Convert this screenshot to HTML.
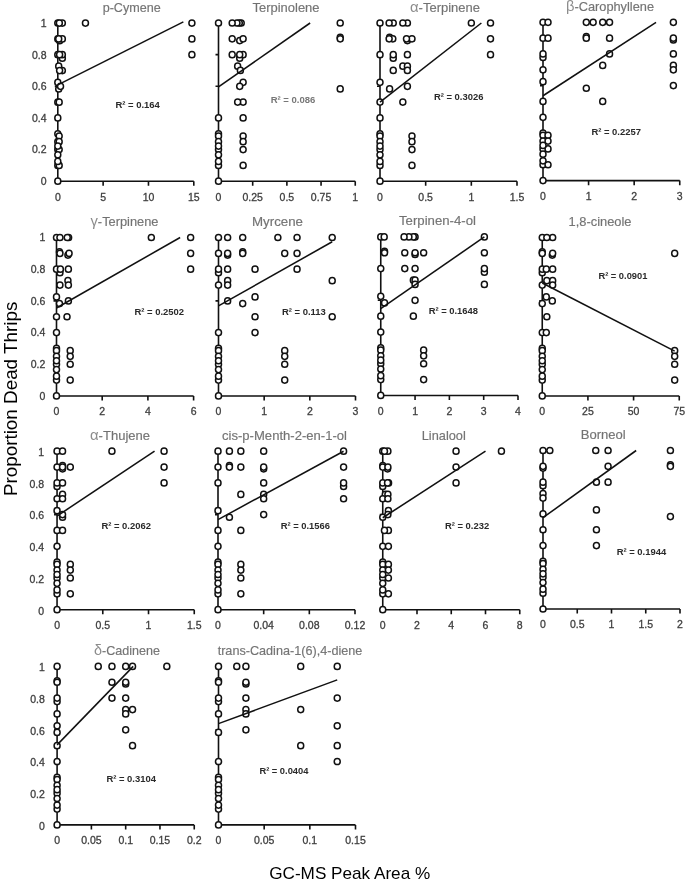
<!DOCTYPE html>
<html lang="en"><head><meta charset="utf-8"><title>Proportion Dead Thrips vs GC-MS Peak Area %</title>
<style>html,body{margin:0;padding:0;background:#fff}svg{display:block}text{font-family:"Liberation Sans",sans-serif}.t{font-size:12.2px;fill:#707070;text-anchor:middle;stroke:#8a8a8a;stroke-width:.2px}.g{stroke:none}.g{font-size:14px;fill:#8c8c8c}.k{font-size:10.5px;fill:#3a3a3a;stroke:#444;stroke-width:.3px}.r{font-size:9.8px;font-weight:bold}.a{stroke:#111;stroke-width:1.6;fill:none;stroke-linecap:butt}.l{stroke-width:1.55}.c ellipse{fill:#fff;stroke:#111;stroke-width:1.5}</style></head><body>
<svg width="685" height="884" viewBox="0 0 685 884">
<rect width="685" height="884" fill="#fff"/>
<g><text class="t" x="131.7" y="11.6" textLength="58.1" lengthAdjust="spacingAndGlyphs">p-Cymene</text><path class="a" d="M57.8 23.1V181.2H193.8M103.13 181.2v4.6M148.47 181.2v4.6M193.8 181.2v4.6M57.8 181.2h-3M57.8 149.58h-3M57.8 117.96h-3M57.8 86.34h-3M57.8 54.72h-3M57.8 23.1h-3"/><text class="k" text-anchor="middle" x="57.8" y="200.5">0</text><text class="k" text-anchor="middle" x="103.13" y="200.5">5</text><text class="k" text-anchor="middle" x="148.47" y="200.5">10</text><text class="k" text-anchor="middle" x="193.8" y="200.5">15</text><text class="k" text-anchor="end" x="46.6" y="185">0</text><text class="k" text-anchor="end" x="46.6" y="153.38">0.2</text><text class="k" text-anchor="end" x="46.6" y="121.76">0.4</text><text class="k" text-anchor="end" x="46.6" y="90.14">0.6</text><text class="k" text-anchor="end" x="46.6" y="58.52">0.8</text><text class="k" text-anchor="end" x="46.6" y="26.9">1</text><g class="c"><ellipse cx="59.61" cy="40.66" rx="3" ry="3.1"/><ellipse cx="62.33" cy="58.23" rx="3" ry="3.1"/><ellipse cx="58.71" cy="66.21" rx="3" ry="3.1"/><ellipse cx="57.8" cy="82.39" rx="3" ry="3.1"/><ellipse cx="58.71" cy="88.98" rx="3" ry="3.1"/><ellipse cx="57.8" cy="23.1" rx="3" ry="3.1"/><ellipse cx="57.8" cy="38.91" rx="3" ry="3.1"/><ellipse cx="57.8" cy="54.72" rx="3" ry="3.1"/><ellipse cx="57.8" cy="102.15" rx="3" ry="3.1"/><ellipse cx="191.9" cy="23.1" rx="3" ry="3.1"/><ellipse cx="85.45" cy="23.1" rx="3" ry="3.1"/><ellipse cx="62.33" cy="23.1" rx="3" ry="3.1"/><ellipse cx="59.34" cy="23.1" rx="3" ry="3.1"/><ellipse cx="191.9" cy="38.91" rx="3" ry="3.1"/><ellipse cx="62.33" cy="38.91" rx="3" ry="3.1"/><ellipse cx="58.71" cy="38.91" rx="3" ry="3.1"/><ellipse cx="191.9" cy="54.72" rx="3" ry="3.1"/><ellipse cx="62.33" cy="54.72" rx="3" ry="3.1"/><ellipse cx="59.61" cy="54.72" rx="3" ry="3.1"/><ellipse cx="62.33" cy="70.53" rx="3" ry="3.1"/><ellipse cx="59.61" cy="70.53" rx="3" ry="3.1"/><ellipse cx="60.52" cy="86.34" rx="3" ry="3.1"/><ellipse cx="59.16" cy="102.15" rx="3" ry="3.1"/><ellipse cx="57.8" cy="117.96" rx="3" ry="3.1"/><ellipse cx="57.8" cy="133.77" rx="3" ry="3.1"/><ellipse cx="57.8" cy="149.58" rx="3" ry="3.1"/><ellipse cx="59.16" cy="149.58" rx="3" ry="3.1"/><ellipse cx="57.8" cy="165.39" rx="3" ry="3.1"/><ellipse cx="59.16" cy="165.39" rx="3" ry="3.1"/><ellipse cx="57.8" cy="181.2" rx="3" ry="3.1"/><ellipse cx="59.16" cy="136.03" rx="3" ry="3.1"/><ellipse cx="57.8" cy="141.67" rx="3" ry="3.1"/><ellipse cx="59.16" cy="141.67" rx="3" ry="3.1"/><ellipse cx="57.8" cy="146.07" rx="3" ry="3.1"/><ellipse cx="57.8" cy="154.84" rx="3" ry="3.1"/><ellipse cx="57.8" cy="161.44" rx="3" ry="3.1"/></g><path class="a l" d="M57.8 84.92L183.37 21.84"/><text class="r" fill="#2a2a2a" x="115.4" y="107.5" textLength="44.5" lengthAdjust="spacingAndGlyphs">R² = 0.164</text></g>
<g><text class="t" x="286" y="11.5" textLength="67" lengthAdjust="spacingAndGlyphs">Terpinolene</text><path class="a" d="M218.5 23V181.2H355.25M252.69 181.2v4.6M286.88 181.2v4.6M321.06 181.2v4.6M355.25 181.2v4.6M218.5 181.2h-3M218.5 149.56h-3M218.5 117.92h-3M218.5 86.28h-3M218.5 54.64h-3M218.5 23h-3"/><text class="k" text-anchor="middle" x="218.5" y="200.5">0</text><text class="k" text-anchor="middle" x="252.69" y="200.5">0.25</text><text class="k" text-anchor="middle" x="286.88" y="200.5">0.5</text><text class="k" text-anchor="middle" x="321.06" y="200.5">0.75</text><text class="k" text-anchor="middle" x="355.25" y="200.5">1</text><g class="c"><ellipse cx="340.21" cy="37.4" rx="3" ry="3.1"/><ellipse cx="239.7" cy="40.58" rx="3" ry="3.1"/><ellipse cx="239.7" cy="58.15" rx="3" ry="3.1"/><ellipse cx="237.65" cy="66.14" rx="3" ry="3.1"/><ellipse cx="243.12" cy="82.32" rx="3" ry="3.1"/><ellipse cx="340.21" cy="88.92" rx="3" ry="3.1"/><ellipse cx="218.5" cy="23" rx="3" ry="3.1"/><ellipse cx="340.21" cy="23" rx="3" ry="3.1"/><ellipse cx="241.2" cy="23" rx="3" ry="3.1"/><ellipse cx="239.29" cy="23" rx="3" ry="3.1"/><ellipse cx="236.96" cy="23" rx="3" ry="3.1"/><ellipse cx="232.18" cy="23" rx="3" ry="3.1"/><ellipse cx="340.21" cy="38.82" rx="3" ry="3.1"/><ellipse cx="243.12" cy="38.82" rx="3" ry="3.1"/><ellipse cx="232.18" cy="38.82" rx="3" ry="3.1"/><ellipse cx="243.12" cy="54.64" rx="3" ry="3.1"/><ellipse cx="239.7" cy="54.64" rx="3" ry="3.1"/><ellipse cx="232.18" cy="54.64" rx="3" ry="3.1"/><ellipse cx="240.38" cy="70.46" rx="3" ry="3.1"/><ellipse cx="239.7" cy="86.28" rx="3" ry="3.1"/><ellipse cx="243.12" cy="102.1" rx="3" ry="3.1"/><ellipse cx="237.65" cy="102.1" rx="3" ry="3.1"/><ellipse cx="218.5" cy="117.92" rx="3" ry="3.1"/><ellipse cx="243.12" cy="117.92" rx="3" ry="3.1"/><ellipse cx="218.5" cy="133.74" rx="3" ry="3.1"/><ellipse cx="218.5" cy="149.56" rx="3" ry="3.1"/><ellipse cx="243.12" cy="149.56" rx="3" ry="3.1"/><ellipse cx="218.5" cy="165.38" rx="3" ry="3.1"/><ellipse cx="243.12" cy="165.38" rx="3" ry="3.1"/><ellipse cx="218.5" cy="181.2" rx="3" ry="3.1"/><ellipse cx="218.5" cy="136" rx="3" ry="3.1"/><ellipse cx="243.12" cy="136" rx="3" ry="3.1"/><ellipse cx="218.5" cy="141.65" rx="3" ry="3.1"/><ellipse cx="243.12" cy="141.65" rx="3" ry="3.1"/><ellipse cx="218.5" cy="146.05" rx="3" ry="3.1"/><ellipse cx="218.5" cy="154.83" rx="3" ry="3.1"/><ellipse cx="218.5" cy="161.42" rx="3" ry="3.1"/></g><path class="a l" d="M218.5 86.91L310.12 23"/><text class="r" fill="#777" x="270.65" y="102.5" textLength="44.7" lengthAdjust="spacingAndGlyphs">R² = 0.086</text></g>
<g><text class="t" x="445" y="11.5" textLength="70" lengthAdjust="spacingAndGlyphs"><tspan class="g">α</tspan>-Terpinene</text><path class="a" d="M380 23V181.2H517M425.67 181.2v4.6M471.33 181.2v4.6M517 181.2v4.6M380 181.2h-3M380 149.56h-3M380 117.92h-3M380 86.28h-3M380 54.64h-3M380 23h-3"/><text class="k" text-anchor="middle" x="380" y="200.5">0</text><text class="k" text-anchor="middle" x="425.67" y="200.5">0.5</text><text class="k" text-anchor="middle" x="471.33" y="200.5">1</text><text class="k" text-anchor="middle" x="517" y="200.5">1.5</text><g class="c"><ellipse cx="389.59" cy="37.4" rx="3" ry="3.1"/><ellipse cx="407.4" cy="40.58" rx="3" ry="3.1"/><ellipse cx="393.24" cy="58.15" rx="3" ry="3.1"/><ellipse cx="402.83" cy="66.14" rx="3" ry="3.1"/><ellipse cx="407.4" cy="66.14" rx="3" ry="3.1"/><ellipse cx="380" cy="82.32" rx="3" ry="3.1"/><ellipse cx="389.59" cy="88.92" rx="3" ry="3.1"/><ellipse cx="380" cy="23" rx="3" ry="3.1"/><ellipse cx="380" cy="54.64" rx="3" ry="3.1"/><ellipse cx="380" cy="102.1" rx="3" ry="3.1"/><ellipse cx="490.51" cy="23" rx="3" ry="3.1"/><ellipse cx="471.33" cy="23" rx="3" ry="3.1"/><ellipse cx="407.4" cy="23" rx="3" ry="3.1"/><ellipse cx="402.83" cy="23" rx="3" ry="3.1"/><ellipse cx="393.24" cy="23" rx="3" ry="3.1"/><ellipse cx="389.13" cy="23" rx="3" ry="3.1"/><ellipse cx="490.51" cy="38.82" rx="3" ry="3.1"/><ellipse cx="411.97" cy="38.82" rx="3" ry="3.1"/><ellipse cx="406.49" cy="38.82" rx="3" ry="3.1"/><ellipse cx="392.79" cy="38.82" rx="3" ry="3.1"/><ellipse cx="389.13" cy="38.82" rx="3" ry="3.1"/><ellipse cx="490.51" cy="54.64" rx="3" ry="3.1"/><ellipse cx="407.4" cy="54.64" rx="3" ry="3.1"/><ellipse cx="393.24" cy="54.64" rx="3" ry="3.1"/><ellipse cx="407.4" cy="70.46" rx="3" ry="3.1"/><ellipse cx="393.24" cy="70.46" rx="3" ry="3.1"/><ellipse cx="407.4" cy="86.28" rx="3" ry="3.1"/><ellipse cx="402.83" cy="102.1" rx="3" ry="3.1"/><ellipse cx="380" cy="117.92" rx="3" ry="3.1"/><ellipse cx="380" cy="133.74" rx="3" ry="3.1"/><ellipse cx="380" cy="149.56" rx="3" ry="3.1"/><ellipse cx="411.97" cy="149.56" rx="3" ry="3.1"/><ellipse cx="380" cy="165.38" rx="3" ry="3.1"/><ellipse cx="411.97" cy="165.38" rx="3" ry="3.1"/><ellipse cx="380" cy="181.2" rx="3" ry="3.1"/><ellipse cx="380" cy="136" rx="3" ry="3.1"/><ellipse cx="411.97" cy="136" rx="3" ry="3.1"/><ellipse cx="380" cy="141.65" rx="3" ry="3.1"/><ellipse cx="411.97" cy="141.65" rx="3" ry="3.1"/><ellipse cx="380" cy="146.05" rx="3" ry="3.1"/><ellipse cx="380" cy="154.83" rx="3" ry="3.1"/><ellipse cx="380" cy="161.42" rx="3" ry="3.1"/></g><path class="a l" d="M380 102.1L481.38 23"/><text class="r" fill="#2a2a2a" x="433.9" y="100" textLength="49.5" lengthAdjust="spacingAndGlyphs">R² = 0.3026</text></g>
<g><text class="t" x="610" y="10.8" textLength="88" lengthAdjust="spacingAndGlyphs"><tspan class="g">β</tspan>-Carophyllene</text><path class="a" d="M543 22.3V180.6H679.75M588.58 180.6v4.6M634.17 180.6v4.6M679.75 180.6v4.6M543 180.6h-3M543 148.94h-3M543 117.28h-3M543 85.62h-3M543 53.96h-3M543 22.3h-3"/><text class="k" text-anchor="middle" x="543" y="199.9">0</text><text class="k" text-anchor="middle" x="588.58" y="199.9">1</text><text class="k" text-anchor="middle" x="634.17" y="199.9">2</text><text class="k" text-anchor="middle" x="679.75" y="199.9">3</text><g class="c"><ellipse cx="586.3" cy="36.71" rx="3" ry="3.1"/><ellipse cx="673.37" cy="39.89" rx="3" ry="3.1"/><ellipse cx="543" cy="57.47" rx="3" ry="3.1"/><ellipse cx="602.71" cy="65.47" rx="3" ry="3.1"/><ellipse cx="673.37" cy="65.47" rx="3" ry="3.1"/><ellipse cx="543" cy="81.66" rx="3" ry="3.1"/><ellipse cx="586.3" cy="88.26" rx="3" ry="3.1"/><ellipse cx="543" cy="22.3" rx="3" ry="3.1"/><ellipse cx="543" cy="38.13" rx="3" ry="3.1"/><ellipse cx="543" cy="53.96" rx="3" ry="3.1"/><ellipse cx="543" cy="69.79" rx="3" ry="3.1"/><ellipse cx="543" cy="101.45" rx="3" ry="3.1"/><ellipse cx="673.37" cy="22.3" rx="3" ry="3.1"/><ellipse cx="609.55" cy="22.3" rx="3" ry="3.1"/><ellipse cx="602.71" cy="22.3" rx="3" ry="3.1"/><ellipse cx="593.14" cy="22.3" rx="3" ry="3.1"/><ellipse cx="586.3" cy="22.3" rx="3" ry="3.1"/><ellipse cx="548.01" cy="22.3" rx="3" ry="3.1"/><ellipse cx="673.37" cy="38.13" rx="3" ry="3.1"/><ellipse cx="609.55" cy="38.13" rx="3" ry="3.1"/><ellipse cx="586.3" cy="38.13" rx="3" ry="3.1"/><ellipse cx="548.01" cy="38.13" rx="3" ry="3.1"/><ellipse cx="673.37" cy="53.96" rx="3" ry="3.1"/><ellipse cx="609.55" cy="53.96" rx="3" ry="3.1"/><ellipse cx="673.37" cy="69.79" rx="3" ry="3.1"/><ellipse cx="673.37" cy="85.62" rx="3" ry="3.1"/><ellipse cx="602.71" cy="101.45" rx="3" ry="3.1"/><ellipse cx="543" cy="117.28" rx="3" ry="3.1"/><ellipse cx="543" cy="133.11" rx="3" ry="3.1"/><ellipse cx="543" cy="148.94" rx="3" ry="3.1"/><ellipse cx="548.01" cy="148.94" rx="3" ry="3.1"/><ellipse cx="543" cy="164.77" rx="3" ry="3.1"/><ellipse cx="548.01" cy="164.77" rx="3" ry="3.1"/><ellipse cx="543" cy="180.6" rx="3" ry="3.1"/><ellipse cx="543" cy="135.37" rx="3" ry="3.1"/><ellipse cx="548.01" cy="135.37" rx="3" ry="3.1"/><ellipse cx="543" cy="141.03" rx="3" ry="3.1"/><ellipse cx="548.01" cy="141.03" rx="3" ry="3.1"/><ellipse cx="543" cy="145.43" rx="3" ry="3.1"/><ellipse cx="543" cy="154.21" rx="3" ry="3.1"/><ellipse cx="543" cy="160.81" rx="3" ry="3.1"/></g><path class="a l" d="M543 95.75L656.05 22.3"/><text class="r" fill="#2a2a2a" x="591.4" y="134.5" textLength="49.5" lengthAdjust="spacingAndGlyphs">R² = 0.2257</text></g>
<g><text class="t" x="124.5" y="226" textLength="68" lengthAdjust="spacingAndGlyphs"><tspan class="g">γ</tspan>-Terpinene</text><path class="a" d="M56.5 237.5V395.95H193.6M102.2 395.95v4.6M147.9 395.95v4.6M193.6 395.95v4.6M56.5 395.95h-3M56.5 364.26h-3M56.5 332.57h-3M56.5 300.88h-3M56.5 269.19h-3M56.5 237.5h-3"/><text class="k" text-anchor="middle" x="56.5" y="415.25">0</text><text class="k" text-anchor="middle" x="102.2" y="415.25">2</text><text class="k" text-anchor="middle" x="147.9" y="415.25">4</text><text class="k" text-anchor="middle" x="193.6" y="415.25">6</text><text class="k" text-anchor="end" x="45.3" y="399.75">0</text><text class="k" text-anchor="end" x="45.3" y="368.06">0.2</text><text class="k" text-anchor="end" x="45.3" y="336.37">0.4</text><text class="k" text-anchor="end" x="45.3" y="304.68">0.6</text><text class="k" text-anchor="end" x="45.3" y="272.99">0.8</text><text class="k" text-anchor="end" x="45.3" y="241.3">1</text><g class="c"><ellipse cx="59.47" cy="251.92" rx="3" ry="3.1"/><ellipse cx="67.92" cy="255.1" rx="3" ry="3.1"/><ellipse cx="59.93" cy="272.71" rx="3" ry="3.1"/><ellipse cx="67.92" cy="280.71" rx="3" ry="3.1"/><ellipse cx="56.5" cy="296.92" rx="3" ry="3.1"/><ellipse cx="59.47" cy="303.53" rx="3" ry="3.1"/><ellipse cx="56.5" cy="237.5" rx="3" ry="3.1"/><ellipse cx="56.5" cy="269.19" rx="3" ry="3.1"/><ellipse cx="56.5" cy="316.73" rx="3" ry="3.1"/><ellipse cx="190.63" cy="237.5" rx="3" ry="3.1"/><ellipse cx="151.33" cy="237.5" rx="3" ry="3.1"/><ellipse cx="68.61" cy="237.5" rx="3" ry="3.1"/><ellipse cx="67.24" cy="237.5" rx="3" ry="3.1"/><ellipse cx="59.93" cy="237.5" rx="3" ry="3.1"/><ellipse cx="190.63" cy="253.34" rx="3" ry="3.1"/><ellipse cx="69.07" cy="253.34" rx="3" ry="3.1"/><ellipse cx="59.93" cy="253.34" rx="3" ry="3.1"/><ellipse cx="190.63" cy="269.19" rx="3" ry="3.1"/><ellipse cx="68.38" cy="269.19" rx="3" ry="3.1"/><ellipse cx="60.38" cy="269.19" rx="3" ry="3.1"/><ellipse cx="68.38" cy="285.03" rx="3" ry="3.1"/><ellipse cx="59.93" cy="285.03" rx="3" ry="3.1"/><ellipse cx="68.38" cy="300.88" rx="3" ry="3.1"/><ellipse cx="67.01" cy="316.73" rx="3" ry="3.1"/><ellipse cx="56.5" cy="332.57" rx="3" ry="3.1"/><ellipse cx="56.5" cy="348.41" rx="3" ry="3.1"/><ellipse cx="56.5" cy="364.26" rx="3" ry="3.1"/><ellipse cx="70.21" cy="364.26" rx="3" ry="3.1"/><ellipse cx="56.5" cy="380.11" rx="3" ry="3.1"/><ellipse cx="70.21" cy="380.11" rx="3" ry="3.1"/><ellipse cx="56.5" cy="395.95" rx="3" ry="3.1"/><ellipse cx="56.5" cy="350.68" rx="3" ry="3.1"/><ellipse cx="70.21" cy="350.68" rx="3" ry="3.1"/><ellipse cx="56.5" cy="356.34" rx="3" ry="3.1"/><ellipse cx="70.21" cy="356.34" rx="3" ry="3.1"/><ellipse cx="56.5" cy="360.74" rx="3" ry="3.1"/><ellipse cx="56.5" cy="369.54" rx="3" ry="3.1"/><ellipse cx="56.5" cy="376.14" rx="3" ry="3.1"/></g><path class="a l" d="M56.5 308.01L180.12 237.5"/><text class="r" fill="#2a2a2a" x="134.4" y="314.5" textLength="49.7" lengthAdjust="spacingAndGlyphs">R² = 0.2502</text></g>
<g><text class="t" x="277.5" y="226" textLength="51" lengthAdjust="spacingAndGlyphs">Myrcene</text><path class="a" d="M218.5 237.5V395.95H355.5M264.17 395.95v4.6M309.83 395.95v4.6M355.5 395.95v4.6M218.5 395.95h-3M218.5 364.26h-3M218.5 332.57h-3M218.5 300.88h-3M218.5 269.19h-3M218.5 237.5h-3"/><text class="k" text-anchor="middle" x="218.5" y="415.25">0</text><text class="k" text-anchor="middle" x="264.17" y="415.25">1</text><text class="k" text-anchor="middle" x="309.83" y="415.25">2</text><text class="k" text-anchor="middle" x="355.5" y="415.25">3</text><g class="c"><ellipse cx="242.7" cy="251.92" rx="3" ry="3.1"/><ellipse cx="227.63" cy="255.1" rx="3" ry="3.1"/><ellipse cx="218.5" cy="272.71" rx="3" ry="3.1"/><ellipse cx="227.63" cy="280.71" rx="3" ry="3.1"/><ellipse cx="332.21" cy="280.71" rx="3" ry="3.1"/><ellipse cx="255.03" cy="296.92" rx="3" ry="3.1"/><ellipse cx="242.7" cy="303.53" rx="3" ry="3.1"/><ellipse cx="218.5" cy="237.5" rx="3" ry="3.1"/><ellipse cx="218.5" cy="253.34" rx="3" ry="3.1"/><ellipse cx="218.5" cy="269.19" rx="3" ry="3.1"/><ellipse cx="218.5" cy="285.03" rx="3" ry="3.1"/><ellipse cx="332.21" cy="237.5" rx="3" ry="3.1"/><ellipse cx="297.05" cy="237.5" rx="3" ry="3.1"/><ellipse cx="277.87" cy="237.5" rx="3" ry="3.1"/><ellipse cx="242.7" cy="237.5" rx="3" ry="3.1"/><ellipse cx="227.63" cy="237.5" rx="3" ry="3.1"/><ellipse cx="297.05" cy="253.34" rx="3" ry="3.1"/><ellipse cx="284.72" cy="253.34" rx="3" ry="3.1"/><ellipse cx="242.7" cy="253.34" rx="3" ry="3.1"/><ellipse cx="227.63" cy="253.34" rx="3" ry="3.1"/><ellipse cx="297.05" cy="269.19" rx="3" ry="3.1"/><ellipse cx="255.03" cy="269.19" rx="3" ry="3.1"/><ellipse cx="227.63" cy="269.19" rx="3" ry="3.1"/><ellipse cx="227.63" cy="285.03" rx="3" ry="3.1"/><ellipse cx="227.63" cy="300.88" rx="3" ry="3.1"/><ellipse cx="332.21" cy="316.73" rx="3" ry="3.1"/><ellipse cx="255.03" cy="316.73" rx="3" ry="3.1"/><ellipse cx="218.5" cy="332.57" rx="3" ry="3.1"/><ellipse cx="255.03" cy="332.57" rx="3" ry="3.1"/><ellipse cx="218.5" cy="348.41" rx="3" ry="3.1"/><ellipse cx="218.5" cy="364.26" rx="3" ry="3.1"/><ellipse cx="284.72" cy="364.26" rx="3" ry="3.1"/><ellipse cx="218.5" cy="380.11" rx="3" ry="3.1"/><ellipse cx="284.72" cy="380.11" rx="3" ry="3.1"/><ellipse cx="218.5" cy="395.95" rx="3" ry="3.1"/><ellipse cx="218.5" cy="350.68" rx="3" ry="3.1"/><ellipse cx="284.72" cy="350.68" rx="3" ry="3.1"/><ellipse cx="218.5" cy="356.34" rx="3" ry="3.1"/><ellipse cx="284.72" cy="356.34" rx="3" ry="3.1"/><ellipse cx="218.5" cy="360.74" rx="3" ry="3.1"/><ellipse cx="218.5" cy="369.54" rx="3" ry="3.1"/><ellipse cx="218.5" cy="376.14" rx="3" ry="3.1"/></g><path class="a l" d="M218.5 305.95L332.21 241.78"/><text class="r" fill="#2a2a2a" x="281.9" y="314.5" textLength="44" lengthAdjust="spacingAndGlyphs">R² = 0.113</text></g>
<g><text class="t" x="437.5" y="225.4" textLength="77" lengthAdjust="spacingAndGlyphs">Terpinen-4-ol</text><path class="a" d="M380.75 236.9V395.45H518M415.06 395.45v4.6M449.38 395.45v4.6M483.69 395.45v4.6M518 395.45v4.6M380.75 395.45h-3M380.75 363.74h-3M380.75 332.03h-3M380.75 300.32h-3M380.75 268.61h-3M380.75 236.9h-3"/><text class="k" text-anchor="middle" x="380.75" y="414.75">0</text><text class="k" text-anchor="middle" x="415.06" y="414.75">1</text><text class="k" text-anchor="middle" x="449.38" y="414.75">2</text><text class="k" text-anchor="middle" x="483.69" y="414.75">3</text><text class="k" text-anchor="middle" x="518" y="414.75">4</text><g class="c"><ellipse cx="384.52" cy="251.33" rx="3" ry="3.1"/><ellipse cx="415.06" cy="254.51" rx="3" ry="3.1"/><ellipse cx="484.37" cy="272.13" rx="3" ry="3.1"/><ellipse cx="413.35" cy="280.14" rx="3" ry="3.1"/><ellipse cx="415.06" cy="280.14" rx="3" ry="3.1"/><ellipse cx="380.75" cy="296.36" rx="3" ry="3.1"/><ellipse cx="384.52" cy="302.97" rx="3" ry="3.1"/><ellipse cx="380.75" cy="236.9" rx="3" ry="3.1"/><ellipse cx="380.75" cy="268.61" rx="3" ry="3.1"/><ellipse cx="380.75" cy="316.18" rx="3" ry="3.1"/><ellipse cx="484.37" cy="236.9" rx="3" ry="3.1"/><ellipse cx="415.06" cy="236.9" rx="3" ry="3.1"/><ellipse cx="413.35" cy="236.9" rx="3" ry="3.1"/><ellipse cx="408.89" cy="236.9" rx="3" ry="3.1"/><ellipse cx="404.08" cy="236.9" rx="3" ry="3.1"/><ellipse cx="384.18" cy="236.9" rx="3" ry="3.1"/><ellipse cx="484.37" cy="252.75" rx="3" ry="3.1"/><ellipse cx="423.64" cy="252.75" rx="3" ry="3.1"/><ellipse cx="415.06" cy="252.75" rx="3" ry="3.1"/><ellipse cx="404.77" cy="252.75" rx="3" ry="3.1"/><ellipse cx="384.52" cy="252.75" rx="3" ry="3.1"/><ellipse cx="484.37" cy="268.61" rx="3" ry="3.1"/><ellipse cx="415.06" cy="268.61" rx="3" ry="3.1"/><ellipse cx="404.77" cy="268.61" rx="3" ry="3.1"/><ellipse cx="484.37" cy="284.47" rx="3" ry="3.1"/><ellipse cx="415.06" cy="284.47" rx="3" ry="3.1"/><ellipse cx="415.06" cy="300.32" rx="3" ry="3.1"/><ellipse cx="413.35" cy="316.18" rx="3" ry="3.1"/><ellipse cx="380.75" cy="332.03" rx="3" ry="3.1"/><ellipse cx="380.75" cy="347.88" rx="3" ry="3.1"/><ellipse cx="380.75" cy="363.74" rx="3" ry="3.1"/><ellipse cx="423.64" cy="363.74" rx="3" ry="3.1"/><ellipse cx="380.75" cy="379.59" rx="3" ry="3.1"/><ellipse cx="423.64" cy="379.59" rx="3" ry="3.1"/><ellipse cx="380.75" cy="395.45" rx="3" ry="3.1"/><ellipse cx="380.75" cy="350.15" rx="3" ry="3.1"/><ellipse cx="423.64" cy="350.15" rx="3" ry="3.1"/><ellipse cx="380.75" cy="355.81" rx="3" ry="3.1"/><ellipse cx="423.64" cy="355.81" rx="3" ry="3.1"/><ellipse cx="380.75" cy="360.22" rx="3" ry="3.1"/><ellipse cx="380.75" cy="369.02" rx="3" ry="3.1"/><ellipse cx="380.75" cy="375.63" rx="3" ry="3.1"/></g><path class="a l" d="M380.75 308.72L484.37 236.9"/><text class="r" fill="#2a2a2a" x="428.65" y="313.75" textLength="49.3" lengthAdjust="spacingAndGlyphs">R² = 0.1648</text></g>
<g><text class="t" x="600" y="226" textLength="63" lengthAdjust="spacingAndGlyphs">1,8-cineole</text><path class="a" d="M542.25 237.5V395.95H679.25M587.92 395.95v4.6M633.58 395.95v4.6M679.25 395.95v4.6M542.25 395.95h-3M542.25 364.26h-3M542.25 332.57h-3M542.25 300.88h-3M542.25 269.19h-3M542.25 237.5h-3"/><text class="k" text-anchor="middle" x="542.25" y="415.25">0</text><text class="k" text-anchor="middle" x="587.92" y="415.25">25</text><text class="k" text-anchor="middle" x="633.58" y="415.25">50</text><text class="k" text-anchor="middle" x="679.25" y="415.25">75</text><g class="c"><ellipse cx="542.25" cy="251.92" rx="3" ry="3.1"/><ellipse cx="552.3" cy="255.1" rx="3" ry="3.1"/><ellipse cx="542.25" cy="272.71" rx="3" ry="3.1"/><ellipse cx="546.82" cy="280.71" rx="3" ry="3.1"/><ellipse cx="552.66" cy="280.71" rx="3" ry="3.1"/><ellipse cx="546.27" cy="296.92" rx="3" ry="3.1"/><ellipse cx="542.25" cy="303.53" rx="3" ry="3.1"/><ellipse cx="542.25" cy="237.5" rx="3" ry="3.1"/><ellipse cx="542.25" cy="253.34" rx="3" ry="3.1"/><ellipse cx="542.25" cy="269.19" rx="3" ry="3.1"/><ellipse cx="542.25" cy="285.03" rx="3" ry="3.1"/><ellipse cx="552.66" cy="237.5" rx="3" ry="3.1"/><ellipse cx="546.82" cy="237.5" rx="3" ry="3.1"/><ellipse cx="674.68" cy="253.34" rx="3" ry="3.1"/><ellipse cx="552.66" cy="253.34" rx="3" ry="3.1"/><ellipse cx="552.66" cy="269.19" rx="3" ry="3.1"/><ellipse cx="546.27" cy="269.19" rx="3" ry="3.1"/><ellipse cx="552.66" cy="285.03" rx="3" ry="3.1"/><ellipse cx="552.3" cy="300.88" rx="3" ry="3.1"/><ellipse cx="546.82" cy="316.73" rx="3" ry="3.1"/><ellipse cx="542.25" cy="332.57" rx="3" ry="3.1"/><ellipse cx="546.27" cy="332.57" rx="3" ry="3.1"/><ellipse cx="542.25" cy="348.41" rx="3" ry="3.1"/><ellipse cx="542.25" cy="364.26" rx="3" ry="3.1"/><ellipse cx="674.68" cy="364.26" rx="3" ry="3.1"/><ellipse cx="542.25" cy="380.11" rx="3" ry="3.1"/><ellipse cx="674.68" cy="380.11" rx="3" ry="3.1"/><ellipse cx="542.25" cy="395.95" rx="3" ry="3.1"/><ellipse cx="542.25" cy="350.68" rx="3" ry="3.1"/><ellipse cx="674.68" cy="350.68" rx="3" ry="3.1"/><ellipse cx="542.25" cy="356.34" rx="3" ry="3.1"/><ellipse cx="674.68" cy="356.34" rx="3" ry="3.1"/><ellipse cx="542.25" cy="360.74" rx="3" ry="3.1"/><ellipse cx="542.25" cy="369.54" rx="3" ry="3.1"/><ellipse cx="542.25" cy="376.14" rx="3" ry="3.1"/></g><path class="a l" d="M542.25 282.98L674.68 351.11"/><text class="r" fill="#2a2a2a" x="598.4" y="278.75" textLength="49" lengthAdjust="spacingAndGlyphs">R² = 0.0901</text></g>
<g><text class="t" x="120" y="439.7" textLength="60" lengthAdjust="spacingAndGlyphs"><tspan class="g">α</tspan>-Thujene</text><path class="a" d="M57.05 451.2V609.7H194.25M102.78 609.7v4.6M148.52 609.7v4.6M194.25 609.7v4.6M57.05 609.7h-3M57.05 578h-3M57.05 546.3h-3M57.05 514.6h-3M57.05 482.9h-3M57.05 451.2h-3"/><text class="k" text-anchor="middle" x="57.05" y="629">0</text><text class="k" text-anchor="middle" x="102.78" y="629">0.5</text><text class="k" text-anchor="middle" x="148.52" y="629">1</text><text class="k" text-anchor="middle" x="194.25" y="629">1.5</text><text class="k" text-anchor="end" x="44.15" y="614.5">0</text><text class="k" text-anchor="end" x="44.15" y="582.8">0.2</text><text class="k" text-anchor="end" x="44.15" y="551.1">0.4</text><text class="k" text-anchor="end" x="44.15" y="519.4">0.6</text><text class="k" text-anchor="end" x="44.15" y="487.7">0.8</text><text class="k" text-anchor="end" x="44.15" y="456">1</text><g class="c"><ellipse cx="62.54" cy="465.62" rx="3" ry="3.1"/><ellipse cx="62.54" cy="468.81" rx="3" ry="3.1"/><ellipse cx="57.05" cy="486.42" rx="3" ry="3.1"/><ellipse cx="62.54" cy="494.42" rx="3" ry="3.1"/><ellipse cx="57.05" cy="510.64" rx="3" ry="3.1"/><ellipse cx="62.54" cy="517.25" rx="3" ry="3.1"/><ellipse cx="57.05" cy="451.2" rx="3" ry="3.1"/><ellipse cx="57.05" cy="467.05" rx="3" ry="3.1"/><ellipse cx="57.05" cy="482.9" rx="3" ry="3.1"/><ellipse cx="57.05" cy="498.75" rx="3" ry="3.1"/><ellipse cx="57.05" cy="530.45" rx="3" ry="3.1"/><ellipse cx="164.07" cy="451.2" rx="3" ry="3.1"/><ellipse cx="111.93" cy="451.2" rx="3" ry="3.1"/><ellipse cx="62.54" cy="451.2" rx="3" ry="3.1"/><ellipse cx="164.07" cy="467.05" rx="3" ry="3.1"/><ellipse cx="70.31" cy="467.05" rx="3" ry="3.1"/><ellipse cx="62.54" cy="467.05" rx="3" ry="3.1"/><ellipse cx="164.07" cy="482.9" rx="3" ry="3.1"/><ellipse cx="62.54" cy="482.9" rx="3" ry="3.1"/><ellipse cx="62.54" cy="498.75" rx="3" ry="3.1"/><ellipse cx="62.54" cy="514.6" rx="3" ry="3.1"/><ellipse cx="62.54" cy="530.45" rx="3" ry="3.1"/><ellipse cx="57.05" cy="546.3" rx="3" ry="3.1"/><ellipse cx="57.05" cy="562.15" rx="3" ry="3.1"/><ellipse cx="57.05" cy="578" rx="3" ry="3.1"/><ellipse cx="70.31" cy="578" rx="3" ry="3.1"/><ellipse cx="57.05" cy="593.85" rx="3" ry="3.1"/><ellipse cx="70.31" cy="593.85" rx="3" ry="3.1"/><ellipse cx="57.05" cy="609.7" rx="3" ry="3.1"/><ellipse cx="57.05" cy="564.42" rx="3" ry="3.1"/><ellipse cx="70.31" cy="564.42" rx="3" ry="3.1"/><ellipse cx="57.05" cy="570.08" rx="3" ry="3.1"/><ellipse cx="70.31" cy="570.08" rx="3" ry="3.1"/><ellipse cx="57.05" cy="574.48" rx="3" ry="3.1"/><ellipse cx="57.05" cy="583.28" rx="3" ry="3.1"/><ellipse cx="57.05" cy="589.89" rx="3" ry="3.1"/></g><path class="a l" d="M57.05 516.03L154.55 451.2"/><text class="r" fill="#2a2a2a" x="101.4" y="529.25" textLength="49.5" lengthAdjust="spacingAndGlyphs">R² = 0.2062</text></g>
<g><text class="t" x="284.5" y="439.7" textLength="125" lengthAdjust="spacingAndGlyphs">cis-p-Menth-2-en-1-ol</text><path class="a" d="M218 451.2V609.7H355M263.67 609.7v4.6M309.33 609.7v4.6M355 609.7v4.6M218 609.7h-3M218 578h-3M218 546.3h-3M218 514.6h-3M218 482.9h-3M218 451.2h-3"/><text class="k" text-anchor="middle" x="218" y="629">0</text><text class="k" text-anchor="middle" x="263.67" y="629">0.04</text><text class="k" text-anchor="middle" x="309.33" y="629">0.08</text><text class="k" text-anchor="middle" x="355" y="629">0.12</text><g class="c"><ellipse cx="229.42" cy="465.62" rx="3" ry="3.1"/><ellipse cx="263.67" cy="468.81" rx="3" ry="3.1"/><ellipse cx="343.58" cy="486.42" rx="3" ry="3.1"/><ellipse cx="240.83" cy="494.42" rx="3" ry="3.1"/><ellipse cx="263.67" cy="494.42" rx="3" ry="3.1"/><ellipse cx="218" cy="510.64" rx="3" ry="3.1"/><ellipse cx="229.42" cy="517.25" rx="3" ry="3.1"/><ellipse cx="218" cy="451.2" rx="3" ry="3.1"/><ellipse cx="218" cy="467.05" rx="3" ry="3.1"/><ellipse cx="218" cy="482.9" rx="3" ry="3.1"/><ellipse cx="218" cy="530.45" rx="3" ry="3.1"/><ellipse cx="343.58" cy="451.2" rx="3" ry="3.1"/><ellipse cx="263.67" cy="451.2" rx="3" ry="3.1"/><ellipse cx="240.83" cy="451.2" rx="3" ry="3.1"/><ellipse cx="229.42" cy="451.2" rx="3" ry="3.1"/><ellipse cx="343.58" cy="467.05" rx="3" ry="3.1"/><ellipse cx="263.67" cy="467.05" rx="3" ry="3.1"/><ellipse cx="240.83" cy="467.05" rx="3" ry="3.1"/><ellipse cx="229.42" cy="467.05" rx="3" ry="3.1"/><ellipse cx="343.58" cy="482.9" rx="3" ry="3.1"/><ellipse cx="263.67" cy="482.9" rx="3" ry="3.1"/><ellipse cx="343.58" cy="498.75" rx="3" ry="3.1"/><ellipse cx="263.67" cy="498.75" rx="3" ry="3.1"/><ellipse cx="263.67" cy="514.6" rx="3" ry="3.1"/><ellipse cx="240.83" cy="530.45" rx="3" ry="3.1"/><ellipse cx="218" cy="546.3" rx="3" ry="3.1"/><ellipse cx="218" cy="562.15" rx="3" ry="3.1"/><ellipse cx="218" cy="578" rx="3" ry="3.1"/><ellipse cx="240.83" cy="578" rx="3" ry="3.1"/><ellipse cx="218" cy="593.85" rx="3" ry="3.1"/><ellipse cx="240.83" cy="593.85" rx="3" ry="3.1"/><ellipse cx="218" cy="609.7" rx="3" ry="3.1"/><ellipse cx="218" cy="564.42" rx="3" ry="3.1"/><ellipse cx="240.83" cy="564.42" rx="3" ry="3.1"/><ellipse cx="218" cy="570.08" rx="3" ry="3.1"/><ellipse cx="240.83" cy="570.08" rx="3" ry="3.1"/><ellipse cx="218" cy="574.48" rx="3" ry="3.1"/><ellipse cx="218" cy="583.28" rx="3" ry="3.1"/><ellipse cx="218" cy="589.89" rx="3" ry="3.1"/></g><path class="a l" d="M218 519.67L343.58 451.2"/><text class="r" fill="#2a2a2a" x="280.65" y="529.25" textLength="49.3" lengthAdjust="spacingAndGlyphs">R² = 0.1566</text></g>
<g><text class="t" x="443.75" y="439.7" textLength="44" lengthAdjust="spacingAndGlyphs">Linalool</text><path class="a" d="M382.75 451.2V609.7H519.75M417 609.7v4.6M451.25 609.7v4.6M485.5 609.7v4.6M519.75 609.7v4.6M382.75 609.7h-3M382.75 578h-3M382.75 546.3h-3M382.75 514.6h-3M382.75 482.9h-3M382.75 451.2h-3"/><text class="k" text-anchor="middle" x="382.75" y="629">0</text><text class="k" text-anchor="middle" x="417" y="629">2</text><text class="k" text-anchor="middle" x="451.25" y="629">4</text><text class="k" text-anchor="middle" x="485.5" y="629">6</text><text class="k" text-anchor="middle" x="519.75" y="629">8</text><g class="c"><ellipse cx="382.75" cy="465.62" rx="3" ry="3.1"/><ellipse cx="387.55" cy="468.81" rx="3" ry="3.1"/><ellipse cx="382.75" cy="486.42" rx="3" ry="3.1"/><ellipse cx="385.32" cy="494.42" rx="3" ry="3.1"/><ellipse cx="387.89" cy="494.42" rx="3" ry="3.1"/><ellipse cx="388.4" cy="510.64" rx="3" ry="3.1"/><ellipse cx="382.75" cy="517.25" rx="3" ry="3.1"/><ellipse cx="382.75" cy="451.2" rx="3" ry="3.1"/><ellipse cx="382.75" cy="467.05" rx="3" ry="3.1"/><ellipse cx="382.75" cy="482.9" rx="3" ry="3.1"/><ellipse cx="382.75" cy="498.75" rx="3" ry="3.1"/><ellipse cx="501.43" cy="451.2" rx="3" ry="3.1"/><ellipse cx="456.05" cy="451.2" rx="3" ry="3.1"/><ellipse cx="387.89" cy="451.2" rx="3" ry="3.1"/><ellipse cx="384.46" cy="451.2" rx="3" ry="3.1"/><ellipse cx="456.05" cy="467.05" rx="3" ry="3.1"/><ellipse cx="387.89" cy="467.05" rx="3" ry="3.1"/><ellipse cx="456.05" cy="482.9" rx="3" ry="3.1"/><ellipse cx="388.57" cy="482.9" rx="3" ry="3.1"/><ellipse cx="387.55" cy="482.9" rx="3" ry="3.1"/><ellipse cx="387.89" cy="498.75" rx="3" ry="3.1"/><ellipse cx="387.89" cy="514.6" rx="3" ry="3.1"/><ellipse cx="388.4" cy="530.45" rx="3" ry="3.1"/><ellipse cx="384.46" cy="530.45" rx="3" ry="3.1"/><ellipse cx="382.75" cy="546.3" rx="3" ry="3.1"/><ellipse cx="388.4" cy="546.3" rx="3" ry="3.1"/><ellipse cx="382.75" cy="562.15" rx="3" ry="3.1"/><ellipse cx="382.75" cy="578" rx="3" ry="3.1"/><ellipse cx="388.4" cy="578" rx="3" ry="3.1"/><ellipse cx="382.75" cy="593.85" rx="3" ry="3.1"/><ellipse cx="388.4" cy="593.85" rx="3" ry="3.1"/><ellipse cx="382.75" cy="609.7" rx="3" ry="3.1"/><ellipse cx="382.75" cy="564.42" rx="3" ry="3.1"/><ellipse cx="388.4" cy="564.42" rx="3" ry="3.1"/><ellipse cx="382.75" cy="570.08" rx="3" ry="3.1"/><ellipse cx="388.4" cy="570.08" rx="3" ry="3.1"/><ellipse cx="382.75" cy="574.48" rx="3" ry="3.1"/><ellipse cx="382.75" cy="583.28" rx="3" ry="3.1"/><ellipse cx="382.75" cy="589.89" rx="3" ry="3.1"/></g><path class="a l" d="M382.75 517.77L485.5 451.2"/><text class="r" fill="#2a2a2a" x="444.9" y="529.25" textLength="44.3" lengthAdjust="spacingAndGlyphs">R² = 0.232</text></g>
<g><text class="t" x="603.25" y="439" textLength="45" lengthAdjust="spacingAndGlyphs">Borneol</text><path class="a" d="M543 450.5V609H680M577.25 609v4.6M611.5 609v4.6M645.75 609v4.6M680 609v4.6M543 609h-3M543 577.3h-3M543 545.6h-3M543 513.9h-3M543 482.2h-3M543 450.5h-3"/><text class="k" text-anchor="middle" x="543" y="628.3">0</text><text class="k" text-anchor="middle" x="577.25" y="628.3">0.5</text><text class="k" text-anchor="middle" x="611.5" y="628.3">1</text><text class="k" text-anchor="middle" x="645.75" y="628.3">1.5</text><text class="k" text-anchor="middle" x="680" y="628.3">2</text><g class="c"><ellipse cx="670.41" cy="464.92" rx="3" ry="3.1"/><ellipse cx="543" cy="468.11" rx="3" ry="3.1"/><ellipse cx="543" cy="485.72" rx="3" ry="3.1"/><ellipse cx="543" cy="493.72" rx="3" ry="3.1"/><ellipse cx="596.43" cy="509.94" rx="3" ry="3.1"/><ellipse cx="670.41" cy="516.55" rx="3" ry="3.1"/><ellipse cx="543" cy="450.5" rx="3" ry="3.1"/><ellipse cx="543" cy="466.35" rx="3" ry="3.1"/><ellipse cx="543" cy="482.2" rx="3" ry="3.1"/><ellipse cx="543" cy="498.05" rx="3" ry="3.1"/><ellipse cx="543" cy="513.9" rx="3" ry="3.1"/><ellipse cx="543" cy="529.75" rx="3" ry="3.1"/><ellipse cx="670.41" cy="450.5" rx="3" ry="3.1"/><ellipse cx="608.08" cy="450.5" rx="3" ry="3.1"/><ellipse cx="595.75" cy="450.5" rx="3" ry="3.1"/><ellipse cx="549.85" cy="450.5" rx="3" ry="3.1"/><ellipse cx="670.41" cy="466.35" rx="3" ry="3.1"/><ellipse cx="608.08" cy="466.35" rx="3" ry="3.1"/><ellipse cx="608.08" cy="482.2" rx="3" ry="3.1"/><ellipse cx="596.43" cy="482.2" rx="3" ry="3.1"/><ellipse cx="596.43" cy="529.75" rx="3" ry="3.1"/><ellipse cx="543" cy="545.6" rx="3" ry="3.1"/><ellipse cx="596.43" cy="545.6" rx="3" ry="3.1"/><ellipse cx="543" cy="561.45" rx="3" ry="3.1"/><ellipse cx="543" cy="577.3" rx="3" ry="3.1"/><ellipse cx="543" cy="593.15" rx="3" ry="3.1"/><ellipse cx="543" cy="609" rx="3" ry="3.1"/><ellipse cx="543" cy="563.72" rx="3" ry="3.1"/><ellipse cx="543" cy="569.38" rx="3" ry="3.1"/><ellipse cx="543" cy="573.78" rx="3" ry="3.1"/><ellipse cx="543" cy="582.58" rx="3" ry="3.1"/><ellipse cx="543" cy="589.19" rx="3" ry="3.1"/></g><path class="a l" d="M543 517.7L636.16 450.5"/><text class="r" fill="#2a2a2a" x="616.65" y="554.5" textLength="49.5" lengthAdjust="spacingAndGlyphs">R² = 0.1944</text></g>
<g><text class="t" x="127" y="654.9" textLength="66" lengthAdjust="spacingAndGlyphs"><tspan class="g">δ</tspan>-Cadinene</text><path class="a" d="M57.1 666.4V824.9H194.25M91.39 824.9v4.6M125.68 824.9v4.6M159.96 824.9v4.6M194.25 824.9v4.6M57.1 824.9h-3M57.1 793.2h-3M57.1 761.5h-3M57.1 729.8h-3M57.1 698.1h-3M57.1 666.4h-3"/><text class="k" text-anchor="middle" x="57.1" y="844.2">0</text><text class="k" text-anchor="middle" x="91.39" y="844.2">0.05</text><text class="k" text-anchor="middle" x="125.68" y="844.2">0.1</text><text class="k" text-anchor="middle" x="159.96" y="844.2">0.15</text><text class="k" text-anchor="middle" x="194.25" y="844.2">0.2</text><text class="k" text-anchor="end" x="44.9" y="829.7">0</text><text class="k" text-anchor="end" x="44.9" y="798">0.2</text><text class="k" text-anchor="end" x="44.9" y="766.3">0.4</text><text class="k" text-anchor="end" x="44.9" y="734.6">0.6</text><text class="k" text-anchor="end" x="44.9" y="702.9">0.8</text><text class="k" text-anchor="end" x="44.9" y="671.2">1</text><g class="c"><ellipse cx="57.1" cy="680.82" rx="3" ry="3.1"/><ellipse cx="125.68" cy="684.01" rx="3" ry="3.1"/><ellipse cx="57.1" cy="701.62" rx="3" ry="3.1"/><ellipse cx="125.68" cy="709.62" rx="3" ry="3.1"/><ellipse cx="132.53" cy="709.62" rx="3" ry="3.1"/><ellipse cx="57.1" cy="725.84" rx="3" ry="3.1"/><ellipse cx="57.1" cy="732.45" rx="3" ry="3.1"/><ellipse cx="57.1" cy="666.4" rx="3" ry="3.1"/><ellipse cx="57.1" cy="682.25" rx="3" ry="3.1"/><ellipse cx="57.1" cy="698.1" rx="3" ry="3.1"/><ellipse cx="57.1" cy="713.95" rx="3" ry="3.1"/><ellipse cx="57.1" cy="745.65" rx="3" ry="3.1"/><ellipse cx="166.82" cy="666.4" rx="3" ry="3.1"/><ellipse cx="132.53" cy="666.4" rx="3" ry="3.1"/><ellipse cx="125.68" cy="666.4" rx="3" ry="3.1"/><ellipse cx="111.96" cy="666.4" rx="3" ry="3.1"/><ellipse cx="98.25" cy="666.4" rx="3" ry="3.1"/><ellipse cx="125.68" cy="682.25" rx="3" ry="3.1"/><ellipse cx="111.96" cy="682.25" rx="3" ry="3.1"/><ellipse cx="125.68" cy="698.1" rx="3" ry="3.1"/><ellipse cx="111.96" cy="698.1" rx="3" ry="3.1"/><ellipse cx="125.68" cy="713.95" rx="3" ry="3.1"/><ellipse cx="125.68" cy="729.8" rx="3" ry="3.1"/><ellipse cx="132.53" cy="745.65" rx="3" ry="3.1"/><ellipse cx="57.1" cy="761.5" rx="3" ry="3.1"/><ellipse cx="57.1" cy="777.35" rx="3" ry="3.1"/><ellipse cx="57.1" cy="793.2" rx="3" ry="3.1"/><ellipse cx="57.1" cy="809.05" rx="3" ry="3.1"/><ellipse cx="57.1" cy="824.9" rx="3" ry="3.1"/><ellipse cx="57.1" cy="779.62" rx="3" ry="3.1"/><ellipse cx="57.1" cy="785.27" rx="3" ry="3.1"/><ellipse cx="57.1" cy="789.68" rx="3" ry="3.1"/><ellipse cx="57.1" cy="798.48" rx="3" ry="3.1"/><ellipse cx="57.1" cy="805.09" rx="3" ry="3.1"/></g><path class="a l" d="M57.1 744.86L133.22 666.4"/><text class="r" fill="#2a2a2a" x="106.4" y="782" textLength="49.5" lengthAdjust="spacingAndGlyphs">R² = 0.3104</text></g>
<g><text class="t" x="290" y="654.9" textLength="144.7" lengthAdjust="spacingAndGlyphs">trans-Cadina-1(6),4-diene</text><path class="a" d="M218.5 666.4V824.9H355.5M264.17 824.9v4.6M309.83 824.9v4.6M355.5 824.9v4.6M218.5 824.9h-3M218.5 793.2h-3M218.5 761.5h-3M218.5 729.8h-3M218.5 698.1h-3M218.5 666.4h-3"/><text class="k" text-anchor="middle" x="218.5" y="844.2">0</text><text class="k" text-anchor="middle" x="264.17" y="844.2">0.05</text><text class="k" text-anchor="middle" x="309.83" y="844.2">0.1</text><text class="k" text-anchor="middle" x="355.5" y="844.2">0.15</text><g class="c"><ellipse cx="218.5" cy="680.82" rx="3" ry="3.1"/><ellipse cx="245.9" cy="684.01" rx="3" ry="3.1"/><ellipse cx="218.5" cy="701.62" rx="3" ry="3.1"/><ellipse cx="245.9" cy="709.62" rx="3" ry="3.1"/><ellipse cx="300.7" cy="709.62" rx="3" ry="3.1"/><ellipse cx="337.23" cy="725.84" rx="3" ry="3.1"/><ellipse cx="218.5" cy="732.45" rx="3" ry="3.1"/><ellipse cx="218.5" cy="666.4" rx="3" ry="3.1"/><ellipse cx="218.5" cy="682.25" rx="3" ry="3.1"/><ellipse cx="218.5" cy="698.1" rx="3" ry="3.1"/><ellipse cx="218.5" cy="713.95" rx="3" ry="3.1"/><ellipse cx="337.23" cy="666.4" rx="3" ry="3.1"/><ellipse cx="300.7" cy="666.4" rx="3" ry="3.1"/><ellipse cx="245.9" cy="666.4" rx="3" ry="3.1"/><ellipse cx="236.77" cy="666.4" rx="3" ry="3.1"/><ellipse cx="245.9" cy="682.25" rx="3" ry="3.1"/><ellipse cx="337.23" cy="698.1" rx="3" ry="3.1"/><ellipse cx="245.9" cy="698.1" rx="3" ry="3.1"/><ellipse cx="245.9" cy="713.95" rx="3" ry="3.1"/><ellipse cx="245.9" cy="729.8" rx="3" ry="3.1"/><ellipse cx="337.23" cy="745.65" rx="3" ry="3.1"/><ellipse cx="300.7" cy="745.65" rx="3" ry="3.1"/><ellipse cx="218.5" cy="761.5" rx="3" ry="3.1"/><ellipse cx="337.23" cy="761.5" rx="3" ry="3.1"/><ellipse cx="218.5" cy="777.35" rx="3" ry="3.1"/><ellipse cx="218.5" cy="793.2" rx="3" ry="3.1"/><ellipse cx="218.5" cy="809.05" rx="3" ry="3.1"/><ellipse cx="218.5" cy="824.9" rx="3" ry="3.1"/><ellipse cx="218.5" cy="779.62" rx="3" ry="3.1"/><ellipse cx="218.5" cy="785.27" rx="3" ry="3.1"/><ellipse cx="218.5" cy="789.68" rx="3" ry="3.1"/><ellipse cx="218.5" cy="798.48" rx="3" ry="3.1"/><ellipse cx="218.5" cy="805.09" rx="3" ry="3.1"/></g><path class="a l" d="M218.5 723.62L337.23 679.87"/><text class="r" fill="#2a2a2a" x="259.4" y="773.75" textLength="49" lengthAdjust="spacingAndGlyphs">R² = 0.0404</text></g>
<text x="349.7" y="879.2" text-anchor="middle" style="font-size:17px;fill:#000" textLength="161" lengthAdjust="spacingAndGlyphs">GC-MS Peak Area %</text>
<text transform="translate(16.6 398.9) rotate(-90)" text-anchor="middle" style="font-size:19px;fill:#000" textLength="194.4" lengthAdjust="spacingAndGlyphs">Proportion Dead Thrips</text>
</svg></body></html>
